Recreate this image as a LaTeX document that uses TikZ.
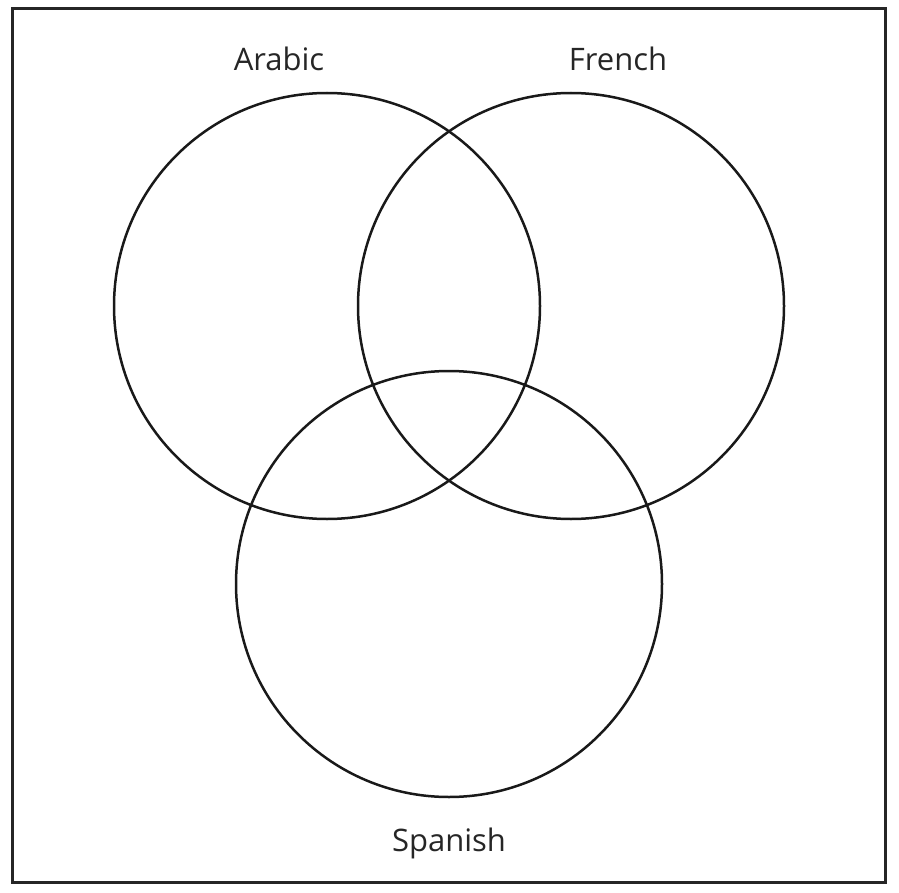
\documentclass[tikz,border=0pt]{standalone}
\usepackage{fontspec}
\setmainfont{Open Sans}
\begin{document}
\begin{tikzpicture}[x=1pt,y=-1pt,
  venn/.style={draw=black!90,line width=2.5pt},
  lbl/.style={font=\fontsize{31}{36}\selectfont,text=black!85,inner sep=0pt}]
\useasboundingbox (0,0) rectangle (899,893);
\draw[black!85,line width=3pt] (12.5,8.5) rectangle (885.5,882.5);
\node[venn,circle,minimum size=426pt,inner sep=0pt] (arabic) at (327,306) {};
\node[venn,circle,minimum size=426pt,inner sep=0pt] (french) at (571,306) {};
\node[venn,circle,minimum size=426pt,inner sep=0pt] (spanish) at (449,584) {};
\node[lbl] (la) at (279,59) {Arabic};
\node[lbl] (lf) at (618,59) {French};
\node[lbl] (ls) at (449,843) {Spanish};
\end{tikzpicture}
\end{document}
